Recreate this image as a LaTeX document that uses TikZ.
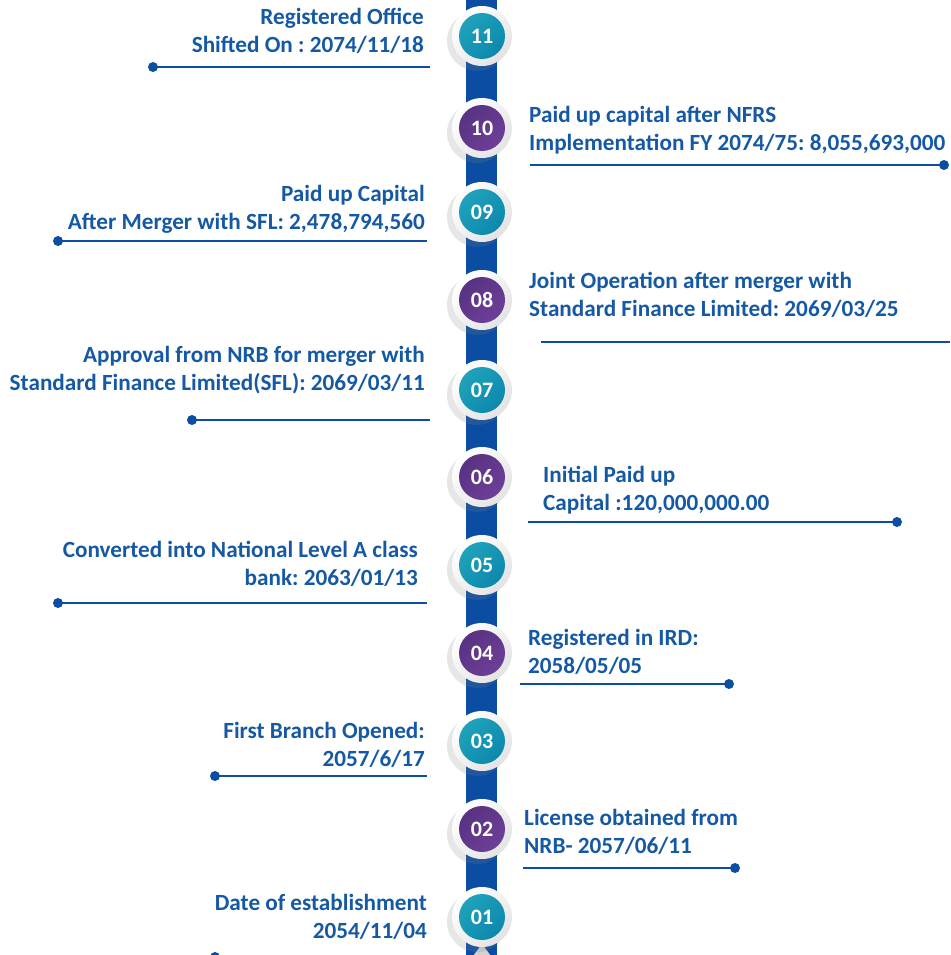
\documentclass[tikz,border=0pt]{standalone}
\usepackage{fontspec}
\setmainfont{Carlito}
\usetikzlibrary{shadows}
\frenchspacing
\definecolor{txtblue}{HTML}{1559A5}
\definecolor{lineblue}{HTML}{0B4EA2}
\definecolor{spineblue}{HTML}{0A4DA2}
\definecolor{tealL}{HTML}{22A6BD}
\definecolor{tealR}{HTML}{0A84AA}
\definecolor{plumL}{HTML}{55307F}
\definecolor{plumR}{HTML}{70419A}
\tikzset{
  bubble/.style={circle, minimum size=60pt, inner sep=0pt, left color=white, right color=gray!22,
    shading angle=45, drop shadow={shadow xshift=-5pt, shadow yshift=-5pt, opacity=.2},
    text=white, font=\fontsize{22}{22}\selectfont\bfseries,
    path picture={\shade[left color=#1L, right color=#1R, shading angle=45]
      (path picture bounding box.center) circle (23pt);}},
  labelR/.style={anchor=base east, align=right, inner sep=0pt, text=txtblue},
  labelL/.style={anchor=base west, align=left, inner sep=0pt, text=txtblue},
  tl/.style={lineblue, line width=2.4pt}
}
\begin{document}
\begin{tikzpicture}[x=1pt, y=-1pt, font=\fontsize{23.2}{28}\selectfont\bfseries]
\useasboundingbox (0,0) rectangle (950,955);
% spine
\fill[spineblue] (466,0) rectangle (497,960);
\fill[gray!35] (470,960) -- (482,944) -- (494,960) -- cycle;
% line ends
\path
(153,67) coordinate (a11) (430,67) coordinate (b11)
(944,165) coordinate (a10) (530,165) coordinate (b10)
(58,241) coordinate (a09) (427,241) coordinate (b09)
(950,342) coordinate (a08) (541,342) coordinate (b08)
(192,420) coordinate (a07) (430,420) coordinate (b07)
(897,522) coordinate (a06) (528,522) coordinate (b06)
(58,603) coordinate (a05) (427,603) coordinate (b05)
(729,684) coordinate (a04) (520,684) coordinate (b04)
(215,776) coordinate (a03) (427,776) coordinate (b03)
(735,868) coordinate (a02) (523,868) coordinate (b02)
(215,957) coordinate (a01) (430,957) coordinate (b01);
\foreach \n in {11,10,09,08,07,06,05,04,03,02,01} \draw[tl] (a\n) -- (b\n);
\foreach \n in {11,10,09,07,06,05,04,03,02,01} \fill[lineblue] (a\n) circle (5pt);
% bubbles
\foreach \n/\y/\c in {11/36/teal,10/128/plum,09/212/teal,08/300/plum,07/390/teal,06/477/plum,
  05/565/teal,04/653/plum,03/741/teal,02/829/plum,01/917/teal}
  \node[bubble=\c] (c\n) at (482,\y) {\n};
% texts (anchored at the last baseline)
\node[labelR] (t11) at (424,53) {Registered Office\\Shifted On : 2074/11/18};
\node[labelL] (t10) at (529,150) {Paid up capital after NFRS\\Implementation FY 2074/75: 8,055,693,000};
\node[labelR] (t09) at (425,229) {Paid up Capital\\After Merger with SFL: 2,478,794,560};
\node[labelL] (t08) at (529,316) {Joint Operation after merger with\\Standard Finance Limited: 2069/03/25};
\node[labelR] (t07) at (425,390) {Approval from NRB for merger with\\Standard Finance Limited(SFL): 2069/03/11};
\node[labelL] (t06) at (543,510) {Initial Paid up\\Capital :120,000,000.00};
\node[labelR] (t05) at (418,585) {Converted into National Level A class\\bank: 2063/01/13};
\node[labelL] (t04) at (528,673) {Registered in IRD:\\2058/05/05};
\node[labelR] (t03) at (425,766) {First Branch Opened:\\2057/6/17};
\node[labelL] (t02) at (524,853) {License obtained from\\NRB- 2057/06/11};
\node[labelR] (t01) at (427,938) {Date of establishment\\2054/11/04};
\end{tikzpicture}
\end{document}
